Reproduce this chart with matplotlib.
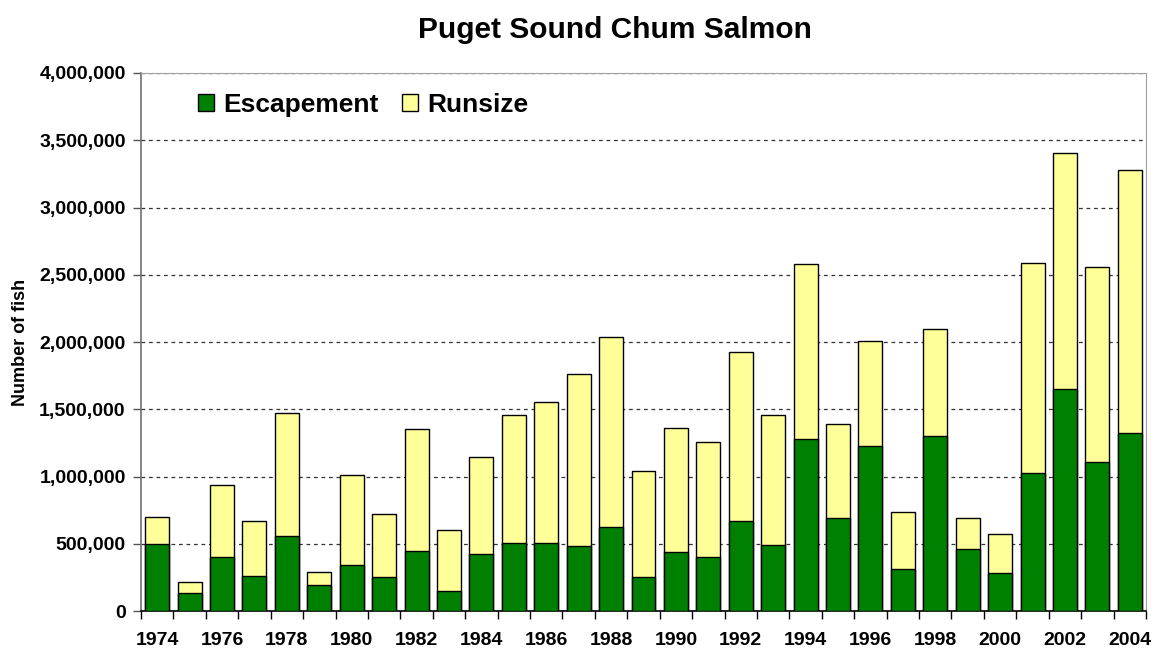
import matplotlib
matplotlib.use("Agg")
import matplotlib.pyplot as plt
from matplotlib.ticker import FuncFormatter, FixedLocator
import numpy as np

years = list(range(1974, 2005))
runsize = [700000, 212000, 939000, 668000, 1475000, 289000, 1010000, 724000, 1353000, 602000,
           1146000, 1459000, 1552000, 1759000, 2037000, 1042000, 1361000, 1260000, 1923000, 1459000,
           2581000, 1387000, 2008000, 737000, 2095000, 695000, 573000, 2586000, 3403000, 2560000,
           3279000]
escapement = [495000, 135000, 403000, 260000, 557000, 194000, 342000, 252000, 443000, 151000,
              427000, 507000, 507000, 485000, 623000, 252000, 435000, 400000, 671000, 491000,
              1279000, 695000, 1225000, 313000, 1300000, 464000, 286000, 1029000, 1650000, 1109000,
              1321000]

plt.rcParams['font.family'] = ['Liberation Sans', 'DejaVu Sans']

fig = plt.figure(figsize=(11.53, 6.48), dpi=100)
ax = fig.add_axes([141/1153, 37/648, 1005/1153, 538/648])

x = np.arange(len(years))
w = 0.74
ax.bar(x, runsize, width=w, color='#FFFF99', edgecolor='black', linewidth=1.0, label='Runsize', zorder=2)
ax.bar(x, escapement, width=w, color='#008000', edgecolor='black', linewidth=1.0, label='Escapement', zorder=3)

ax.set_xlim(-0.5, len(years) - 0.5)
ax.set_ylim(0, 4000000)
ax.set_yticks(np.arange(0, 4000001, 500000))
ax.yaxis.set_major_formatter(FuncFormatter(lambda v, p: f"{int(v):,}"))
ax.yaxis.grid(True, linestyle=(0, (3, 3)), color='#333333', linewidth=0.9, zorder=1)
ax.set_axisbelow(True)

# x ticks: marks at category boundaries, labels at even years
ax.xaxis.set_major_locator(FixedLocator(np.arange(-0.5, len(years), 1.0)))
ax.set_xticklabels([])
ax.xaxis.set_minor_locator(FixedLocator([i for i, y in enumerate(years) if y % 2 == 0]))
ax.set_xticklabels([str(y) for y in years if y % 2 == 0], minor=True)
ax.tick_params(axis='x', which='major', length=6, width=1, color='black', direction='out')
ax.tick_params(axis='x', which='minor', length=0, pad=15, labelsize=14)
ax.tick_params(axis='y', length=6, width=1, color='#555555', direction='out', labelsize=14, pad=5)
for lab in ax.get_xticklabels(minor=True) + ax.get_yticklabels():
    lab.set_fontweight('bold')

for s in ['top', 'right']:
    ax.spines[s].set_color('#A0A0A0')
ax.spines['left'].set_color('#707070')
ax.spines['bottom'].set_color('black')
ax.spines['left'].set_linewidth(1.2)
ax.spines['bottom'].set_linewidth(1.2)

ax.set_ylabel('Number of fish', fontsize=13, fontweight='bold')
ax.yaxis.set_label_coords(-0.111, 0.5)
fig.suptitle('Puget Sound Chum Salmon', fontsize=21.5, fontweight='bold', x=615/1153, y=1 - 30/648, va='center')

handles, labels = ax.get_legend_handles_labels()
leg = ax.legend(handles[::-1], labels[::-1], loc='upper left', bbox_to_anchor=(0.033, 1.007), ncol=2,
                frameon=False, prop={'size': 19, 'weight': 'bold'}, handlelength=0.6, handleheight=0.6,
                handletextpad=0.35, columnspacing=0.9)

fig.savefig('out.png', dpi=100)
